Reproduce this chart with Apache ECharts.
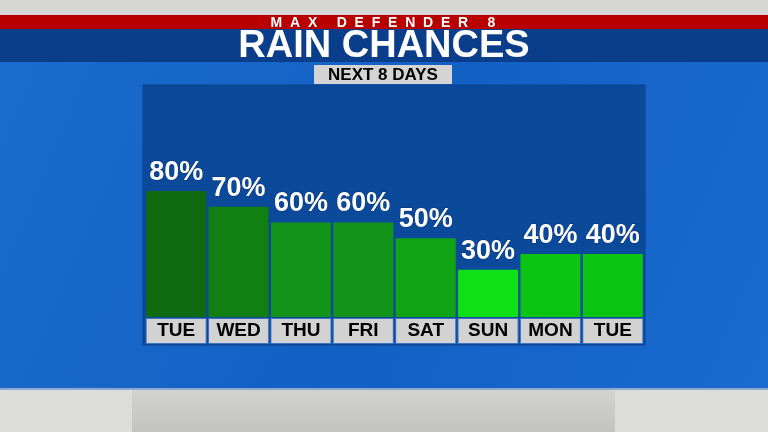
<!DOCTYPE html>
<html><head><meta charset="utf-8">
<script src="https://cdn.jsdelivr.net/npm/echarts@6/dist/echarts.min.js"></script>
<style>html,body{margin:0;padding:0;background:#1565c8}#c{width:768px;height:432px}</style>
</head><body><div id="c"></div>
<script>
const categories = ['TUE','WED','THU','FRI','SAT','SUN','MON','TUE'];
const chances = [80,70,60,60,50,30,40,40];
const barColors = ['#0e6b10','#127f13','#12941a','#12941a','#10a314','#0de015','#0cc412','#0cc412'];
const brand = 'M  A  X     D  E  F  E  N  D  E  R     8';
const title = 'RAIN CHANCES';
const subtitle = 'NEXT 8 DAYS';

const chart = echarts.init(document.getElementById('c'));
chart.setOption({
  animation:false,
  backgroundColor:'#1565c8',
  graphic:[
    {type:'rect',shape:{x:0,y:62,width:768,height:326},z:-10,style:{fill:{type:'linear',x:0,y:0,x2:1,y2:1,colorStops:[{offset:0,color:'#1a6ccc'},{offset:0.5,color:'#1360c4'},{offset:1,color:'#1a6ad0'}]}}},
    {type:'rect',shape:{x:0,y:0,width:768,height:15},style:{fill:'#d6d6d4'}},
    {type:'rect',shape:{x:0,y:15,width:768,height:14},style:{fill:'#b80000'}},
    {type:'rect',shape:{x:0,y:29,width:768,height:33},style:{fill:'#0a3d8a'}},
    {type:'rect',shape:{x:0,y:388,width:768,height:44},style:{fill:'#dcdcda'}},
    {type:'rect',shape:{x:0,y:388,width:768,height:2},style:{fill:'#8aa8d0'}},
    {type:'rect',shape:{x:132,y:390,width:483,height:42},style:{fill:{type:'linear',x:0,y:0,x2:0,y2:1,colorStops:[{offset:0,color:'#d2d2d0'},{offset:1,color:'#c2c2c0'}]}}},
    {type:'rect',shape:{x:143,y:85,width:502,height:260},z:-5,style:{fill:'#0b4a9a',stroke:'#0a4290',lineWidth:1}},
    {type:'text',x:383,y:23,style:{text:brand,fill:'#ffffff',font:'bold 14px "Liberation Sans", Arial, sans-serif',align:'center',verticalAlign:'middle'}},
    {type:'text',x:384,y:47,style:{text:title,fill:'#ffffff',font:'bold 38px "Liberation Sans", Arial, sans-serif',align:'center',verticalAlign:'middle'}},
    {type:'rect',shape:{x:314,y:65,width:138,height:19},style:{fill:'#d4d4d4'}},
    {type:'text',x:383,y:75,style:{text:subtitle,fill:'#000000',font:'bold 17px "Liberation Sans", Arial, sans-serif',align:'center',verticalAlign:'middle'}}
  ],
  grid:{left:145,width:499,top:159.5,height:157.5,containLabel:false},
  xAxis:{type:'category',data:categories,
    axisLine:{show:false},axisTick:{show:false},
    axisLabel:{interval:0,margin:2,color:'#000',fontWeight:'bold',fontSize:19,
      fontFamily:'"Liberation Sans", Arial, sans-serif',
      backgroundColor:'#d2d2d2',borderColor:'#3d74c4',borderWidth:1,
      width:59,height:24,lineHeight:24,align:'center'}},
  yAxis:{type:'value',min:0,max:100,show:false,splitLine:{show:false}},
  series:[{type:'bar',barWidth:60,
    data:chances.map((v,i)=>({value:v,itemStyle:{color:barColors[i]}})),
    label:{show:true,position:'top',distance:5,formatter:'{c}%',color:'#fff',
      fontWeight:'bold',fontSize:27,fontFamily:'"Liberation Sans", Arial, sans-serif',
      textBorderColor:'rgba(0,30,80,0.5)',textBorderWidth:1}}]
});
</script></body></html>
